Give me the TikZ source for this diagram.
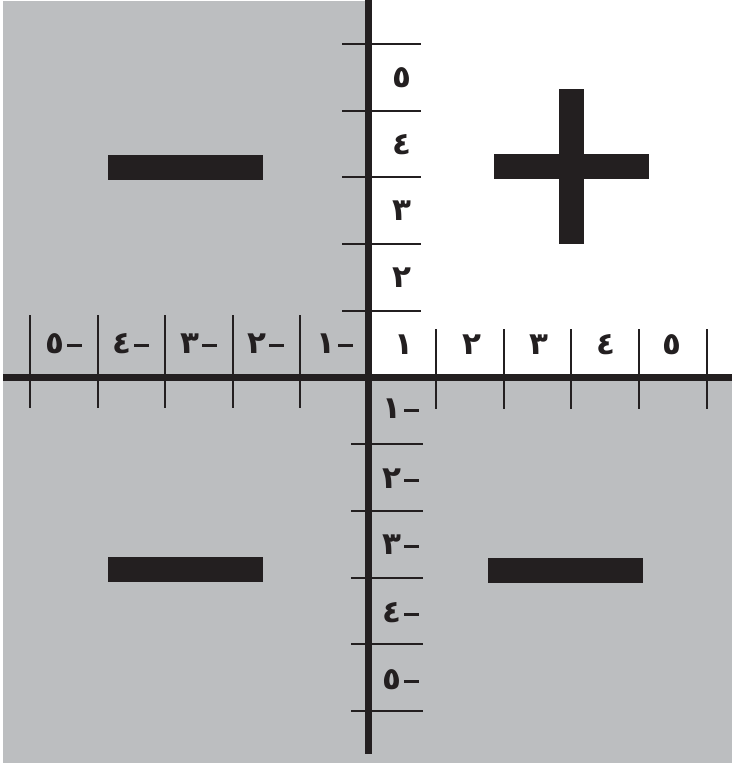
\documentclass[tikz,border=0pt]{standalone}
\usepackage{fontspec}
\newfontfamily\arfont[Script=Arabic]{DejaVu Sans}
\definecolor{bg}{HTML}{BCBEC0}
\definecolor{ink}{HTML}{231F20}
\newcommand{\negnum}[1]{{\arfont #1}\hspace{3pt}\raisebox{7pt}{\rule{15pt}{2.4pt}}}
\tikzset{
  tick/.style={draw=ink, line width=1.8pt},
  axis/.style={draw=ink, line width=6.5pt},
  bar/.style={fill=ink},
  num/.style={inner sep=0pt, text=ink, font=\arfont\bfseries\fontsize{31}{31}\selectfont}
}
\begin{document}
\begin{tikzpicture}[x=1pt,y=-1pt]
\useasboundingbox (0,0) rectangle (732,763);
\fill[bg] (3,1) rectangle (732,763);
\fill[white] (368,0) rectangle (732,377);
% ticks
\foreach \y in {44,110.7,177.3,244,310.7} \draw[tick] (342,\y) -- (421,\y);
\foreach \y in {444.3,511,577.7,644.3,711} \draw[tick] (351,\y) -- (423,\y);
\foreach \x in {30,97.7,165,232.7,300} \draw[tick] (\x,315) -- (\x,408);
\foreach \x in {436,503.7,571,639,706.7} \draw[tick] (\x,329) -- (\x,409);
% axes
\coordinate (xl) at (3,377.7);
\coordinate (xr) at (732,377.7);
\coordinate (yt) at (368.3,0);
\coordinate (yb) at (368.3,754);
\draw[axis] (xl) -- (xr);
\draw[axis] (yt) -- (yb);
% horizontal labels
\node[num] (l5) at (64,344) {\negnum{٥}};
\node[num] (l4) at (131,344) {\negnum{٤}};
\node[num] (l3) at (199,344) {\negnum{٣}};
\node[num] (l2) at (266,344) {\negnum{٢}};
\node[num] (l1) at (335,344) {\negnum{١}};
\node[num] (r1) at (404,345) {١};
\node[num] (r2) at (472,345) {٢};
\node[num] (r3) at (539,345) {٣};
\node[num] (r4) at (606,345) {٤};
\node[num] (r5) at (672,345) {٥};
% vertical labels
\node[num] (t5) at (402,78) {٥};
\node[num] (t4) at (402,145) {٤};
\node[num] (t3) at (402,211) {٣};
\node[num] (t2) at (402,278) {٢};
\node[num] (b1) at (401,409) {\negnum{١}};
\node[num] (b2) at (401,479) {\negnum{٢}};
\node[num] (b3) at (401,545) {\negnum{٣}};
\node[num] (b4) at (401,613) {\negnum{٤}};
\node[num] (b5) at (401,680) {\negnum{٥}};
% signs
\fill[bar] (108,155) rectangle (263,180);
\fill[bar] (494,154) rectangle (649,179.3);
\fill[bar] (559,89.3) rectangle (584,244);
\fill[bar] (108,557) rectangle (263,582);
\fill[bar] (488,558) rectangle (643,583);
\end{tikzpicture}
\end{document}
